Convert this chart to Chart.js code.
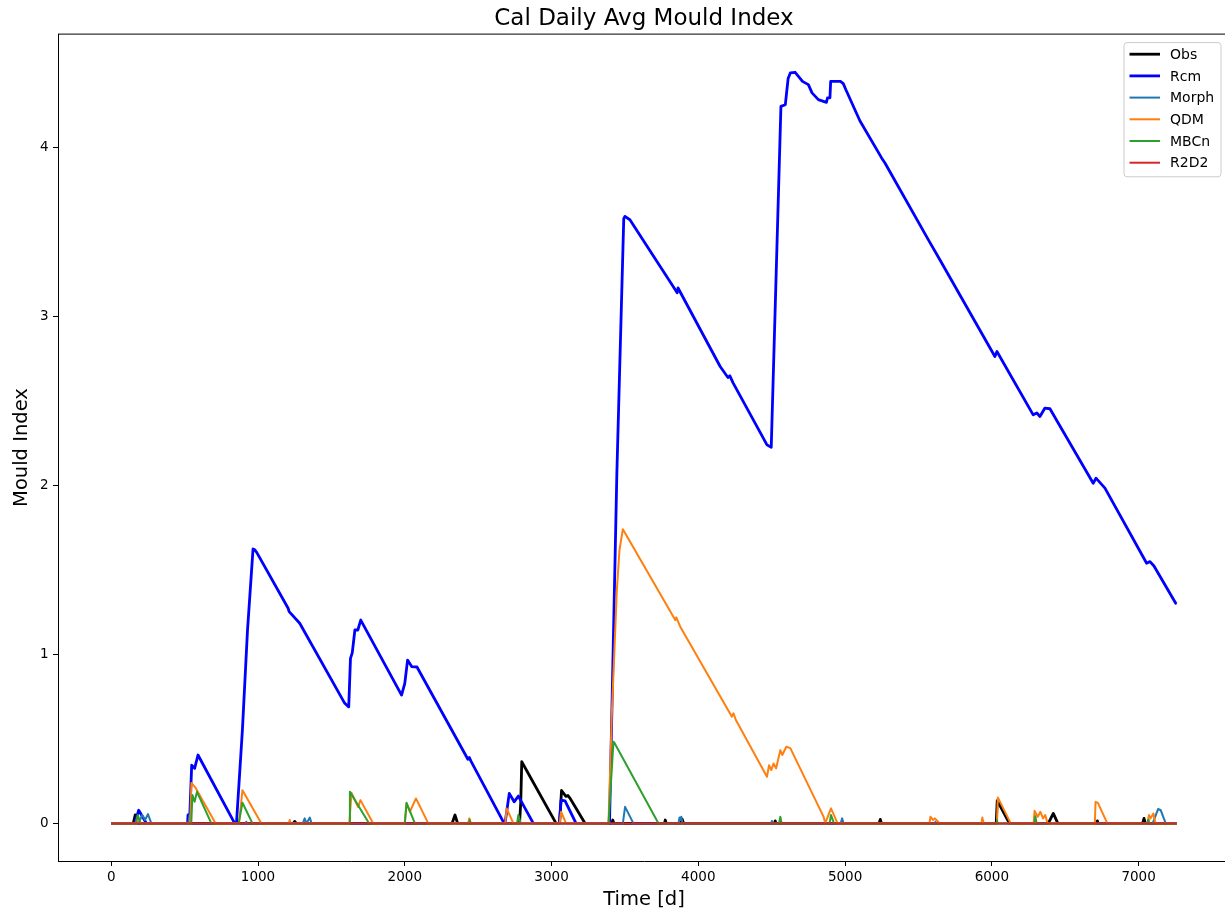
<!DOCTYPE html>
<html>
<head>
<meta charset="utf-8">
<script src="https://cdn.jsdelivr.net/npm/chart.js@4.4.1/dist/chart.umd.min.js"></script>
<style>
  html, body { margin: 0; padding: 0; background: #fff; overflow: hidden; }
  #wrap { width: 1240px; height: 913px; }
</style>
</head>
<body>
<div id="wrap"><canvas id="chart-1" width="1240" height="913"></canvas></div>
<script>
// Mould index per day (0..7260), one pair of arrays per series
const obsDays = [0, 150, 163, 175, 1240, 1250, 1260, 2322, 2342, 2360, 2782, 2790, 2797, 3031,
  3055, 3068, 3098, 3112, 3125, 3229, 3410, 3417, 3425, 3770, 3775, 3782, 3880, 3890, 3900,
  4518, 4524, 4530, 5232, 5240, 5248, 6030, 6037, 6120, 6385, 6419, 6450, 6712, 6719, 6726,
  7028, 7037, 7046, 7260];
const obsVals = [0, 0, 0.05, 0, 0, 0.012, 0, 0, 0.05, 0, 0, 0.12, 0.365, 0,
  0, 0.195, 0.16, 0.165, 0.15, 0, 0, 0.02, 0, 0, 0.02, 0, 0, 0.025, 0,
  0, 0.015, 0, 0, 0.024, 0, 0, 0.135, 0, 0, 0.059, 0, 0, 0.015, 0,
  0, 0.03, 0, 0];

const rcmDays = [0, 160, 187, 240, 520, 523, 535, 548, 568, 591, 841, 853, 894, 928, 966,
  975, 991, 1205, 1212, 1284, 1591, 1618, 1630, 1642, 1660, 1680, 1700, 1978, 2000, 2019, 2048,
  2083, 2430, 2440, 2450, 2677, 2683, 2712, 2745, 2774, 2876, 3053, 3065, 3092, 3167, 3395,
  3445, 3492, 3500, 3534, 3843, 3856, 3862, 4149, 4202, 4215, 4236, 4468, 4497, 4563, 4593,
  4612, 4627, 4660, 4710, 4750, 4775, 4818, 4873, 4880, 4897, 4902, 4969, 4988, 5005, 5101,
  5249, 5272, 5567, 5646, 6021, 6035, 6282, 6307, 6328, 6362, 6396, 6691, 6710, 6771, 7055,
  7078, 7105, 7253, 7260];
const rcmVals = [0, 0, 0.078, 0, 0, 0.05, 0.05, 0.345, 0.326, 0.405, 0, 0, 0.56, 1.14, 1.625,
  1.622, 1.605, 1.274, 1.254, 1.185, 0.711, 0.69, 0.977, 1.01, 1.145, 1.145, 1.204, 0.76, 0.829, 0.967, 0.928,
  0.926, 0.38, 0.39, 0.37, 0, 0, 0.178, 0.128, 0.162, 0, 0, 0.138, 0.134, 0, 0,
  2.07, 3.58, 3.594, 3.574, 3.159, 3.141, 3.17, 2.705, 2.64, 2.65, 2.61, 2.241, 2.227, 4.245, 4.255,
  4.41, 4.443, 4.447, 4.393, 4.374, 4.325, 4.285, 4.269, 4.295, 4.296, 4.393, 4.393, 4.38, 4.345, 4.16,
  3.94, 3.91, 3.456, 3.337, 2.764, 2.794, 2.419, 2.43, 2.409, 2.459, 2.455, 2.014, 2.044, 1.985, 1.54,
  1.55, 1.524, 1.303, 1.3];

const morphDays = [0, 186, 211, 230, 250, 273, 525, 534, 540, 915, 920, 925, 1305, 1318, 1330,
  1353, 1365, 3486, 3501, 3558, 3865, 3872, 3878, 3884, 3892, 4495, 4502, 4510, 4970, 4980,
  4990, 5610, 5616, 5622, 7096, 7133, 7150, 7185, 7260];
const morphVals = [0, 0, 0.05, 0.02, 0.055, 0, 0, 0.05, 0, 0, 0.01, 0, 0, 0.03, 0,
  0.035, 0, 0, 0.098, 0, 0, 0.035, 0.02, 0.04, 0, 0, 0.015, 0, 0, 0.03,
  0, 0, 0.01, 0, 0, 0.085, 0.08, 0, 0];

const qdmDays = [0, 172, 182, 200, 538, 546, 560, 575, 711, 870, 894, 1023, 1210, 1216, 1222,
  1622, 1637, 1682, 1698, 1785, 2000, 2012, 2035, 2076, 2160, 2432, 2440, 2448, 2685, 2694,
  2740, 3055, 3065, 3099, 3388, 3411, 3445, 3463, 3486, 3843, 3850, 3877, 4229, 4240, 4256,
  4468, 4482, 4497, 4513, 4530, 4559, 4572, 4600, 4627, 4854, 4865, 4904, 4949, 5575, 5582,
  5600, 5612, 5645, 5930, 5935, 5945, 6035, 6041, 6129, 6285, 6291, 6313, 6331, 6349, 6364,
  6380, 6702, 6707, 6723, 6787, 7060, 7071, 7082, 7101, 7115, 7260];
const qdmVals = [0, 0, 0.04, 0, 0, 0.24, 0.225, 0.21, 0, 0, 0.197, 0, 0, 0.02, 0,
  0, 0.181, 0.097, 0.138, 0, 0, 0.118, 0.069, 0.148, 0, 0, 0.03, 0, 0, 0.089,
  0, 0, 0.069, 0, 0, 0.65, 1.382, 1.619, 1.742, 1.204, 1.22, 1.165, 0.632, 0.652, 0.612,
  0.276, 0.345, 0.316, 0.355, 0.326, 0.434, 0.405, 0.454, 0.446, 0.039, 0, 0.089, 0, 0, 0.04,
  0.02, 0.03, 0, 0, 0.035, 0, 0, 0.154, 0, 0, 0.075, 0.04, 0.069, 0.03, 0.05,
  0, 0, 0.128, 0.122, 0, 0, 0.05, 0.03, 0.059, 0, 0];

const mbcnDays = [0, 165, 180, 200, 545, 553, 568, 584, 682, 868, 894, 962, 1620, 1626, 1757,
  2000, 2012, 2069, 2436, 2443, 2450, 2765, 2774, 2790, 3388, 3422, 3430, 3729, 4550, 4559,
  4568, 4895, 4904, 4925, 6030, 6035, 6040, 6290, 6297, 6305, 7060, 7065, 7070, 7260];
const mbcnVals = [0, 0, 0.05, 0, 0, 0.168, 0.128, 0.187, 0, 0, 0.122, 0, 0, 0.187, 0,
  0, 0.122, 0, 0, 0.02, 0, 0, 0.05, 0, 0, 0.484, 0.475, 0, 0, 0.04,
  0, 0, 0.05, 0, 0, 0.02, 0, 0, 0.043, 0, 0, 0.02, 0, 0];

const r2d2Days = [0, 7260];
const r2d2Vals = [0, 0];

const xTicks = [0, 1000, 2000, 3000, 4000, 5000, 6000, 7000];
const yTicks = [0, 1, 2, 3, 4];

const pts = (days, vals) => days.map((d, i) => ({ x: d, y: vals[i] }));
const font = "'DejaVu Sans', sans-serif";

// matplotlib-like frame: top + right spines
const frame = {
  id: 'frame',
  afterDatasetsDraw(chart) {
    const { ctx, chartArea: a } = chart;
    ctx.save();
    ctx.strokeStyle = '#000';
    ctx.lineWidth = 1;
    ctx.beginPath();
    ctx.moveTo(a.left, a.top);
    ctx.lineTo(a.right, a.top);
    ctx.lineTo(a.right, a.bottom);
    ctx.stroke();
    ctx.restore();
  }
};

// legend box in the upper right corner of the axes
const legendBox = {
  id: 'legendBox',
  afterDraw(chart) {
    const { ctx, chartArea: a } = chart;
    const sets = chart.data.datasets;
    const w = 97, rowH = 21.7;
    const h = sets.length * rowH + 4;
    const x0 = a.right - 9 - w, y0 = a.top + 8.5, r = 3;
    ctx.save();
    ctx.beginPath();
    ctx.moveTo(x0 + r, y0);
    ctx.lineTo(x0 + w - r, y0);
    ctx.arcTo(x0 + w, y0, x0 + w, y0 + r, r);
    ctx.lineTo(x0 + w, y0 + h - r);
    ctx.arcTo(x0 + w, y0 + h, x0 + w - r, y0 + h, r);
    ctx.lineTo(x0 + r, y0 + h);
    ctx.arcTo(x0, y0 + h, x0, y0 + h - r, r);
    ctx.lineTo(x0, y0 + r);
    ctx.arcTo(x0, y0, x0 + r, y0, r);
    ctx.closePath();
    ctx.fillStyle = 'rgba(255,255,255,0.8)';
    ctx.fill();
    ctx.strokeStyle = '#cccccc';
    ctx.lineWidth = 1;
    ctx.stroke();
    ctx.font = '14px ' + font;
    ctx.textBaseline = 'middle';
    ctx.fillStyle = '#000';
    sets.forEach((ds, i) => {
      const y = y0 + 11.6 + i * rowH;
      ctx.strokeStyle = ds.borderColor;
      ctx.lineWidth = ds.borderWidth;
      ctx.beginPath();
      ctx.moveTo(x0 + 5.5, y);
      ctx.lineTo(x0 + 36, y);
      ctx.stroke();
      ctx.fillText(ds.label, x0 + 46, y + 1);
    });
    ctx.restore();
  }
};

const line = (label, days, vals, color, width, order) => ({
  label: label,
  data: pts(days, vals),
  borderColor: color,
  backgroundColor: color,
  borderWidth: width,
  borderJoinStyle: 'round',
  pointRadius: 0,
  tension: 0,
  fill: false,
  order: order,
});

const ctx1 = document.getElementById('chart-1').getContext('2d');
const myChart1 = new Chart(ctx1, {
  type: 'line',
  data: {
    datasets: [
      line('Obs', obsDays, obsVals, '#000000', 2.8, 6),
      line('Rcm', rcmDays, rcmVals, '#0000ff', 2.8, 5),
      line('Morph', morphDays, morphVals, '#1f77b4', 2, 4),
      line('QDM', qdmDays, qdmVals, '#ff7f0e', 2, 3),
      line('MBCn', mbcnDays, mbcnVals, '#2ca02c', 2, 2),
      line('R2D2', r2d2Days, r2d2Vals, '#d62728', 2, 1),
    ],
  },
  options: {
    responsive: false,
    animation: false,
    devicePixelRatio: 1,
    layout: { padding: { left: 0, right: 10, top: 0, bottom: 0 } },
    plugins: {
      legend: { display: false },
      tooltip: { enabled: false },
      title: {
        display: true,
        fullSize: false,
        text: 'Cal Daily Avg Mould Index',
        color: '#000',
        font: { family: font, size: 23, weight: 'normal' },
        padding: { top: 5, bottom: 1.5 },
      },
    },
    scales: {
      x: {
        type: 'linear',
        min: -363,
        max: 7623,
        afterBuildTicks: (s) => { s.ticks = xTicks.map((v) => ({ value: v })); },
        afterFit: (s) => { s.height = 52; },
        ticks: {
          callback: (v) => String(v),
          color: '#000',
          font: { family: font, size: 13.5 },
          padding: 3,
          maxRotation: 0,
          autoSkip: false,
        },
        grid: { display: true, drawOnChartArea: false, drawTicks: true, tickLength: 5, color: '#000', lineWidth: 1 },
        border: { display: true, color: '#000', width: 1 },
        title: {
          display: true,
          text: 'Time [d]',
          color: '#000',
          font: { family: font, size: 19.5 },
          padding: { top: 0, bottom: 1.3 },
        },
      },
      y: {
        type: 'linear',
        min: -0.2225,
        max: 4.673,
        afterBuildTicks: (s) => { s.ticks = yTicks.map((v) => ({ value: v })); },
        afterFit: (s) => { s.width = 58; },
        ticks: {
          callback: (v) => String(v),
          color: '#000',
          font: { family: font, size: 13.5 },
          padding: 4.5,
        },
        grid: { display: true, drawOnChartArea: false, drawTicks: true, tickLength: 5, color: '#000', lineWidth: 1 },
        border: { display: true, color: '#000', width: 1 },
        title: {
          display: true,
          text: 'Mould Index',
          color: '#000',
          font: { family: font, size: 19.5 },
          padding: { top: 10, bottom: 0 },
        },
      },
    },
  },
  plugins: [frame, legendBox],
});
</script>
</body>
</html>
